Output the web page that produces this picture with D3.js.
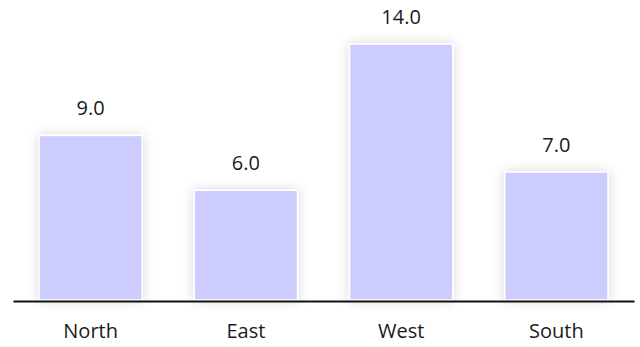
<!DOCTYPE html>
<html>
<head>
<meta charset="utf-8">
<script src="https://cdn.jsdelivr.net/npm/d3@7"></script>
<style>
  body { margin: 0; background: #fff; }
  text { font-family: "Open Sans", sans-serif; fill: #1a1a1a; }
</style>
</head>
<body>
<div id="chart"></div>
<script>
const width = 640;
const height = 347;

// data
const regions = ["North", "East", "West", "South"];
const values = [9, 6, 14, 7];

const svg = d3.select("#chart")
    .append("svg")
    .attr("width", width)
    .attr("height", height);

// soft shadow round the bars
const defs = svg.append("defs");
const shadow = defs.append("filter")
    .attr("id", "shadow")
    .attr("x", "-30%").attr("y", "-30%")
    .attr("width", "160%").attr("height", "160%");
shadow.append("feDropShadow")
    .attr("dx", 0)
    .attr("dy", 0)
    .attr("stdDeviation", 6)
    .attr("flood-color", "#000")
    .attr("flood-opacity", 0.16);

const x = d3.scaleBand()
    .domain(regions)
    .range([13, 634])
    .paddingInner(0.335)
    .paddingOuter(0.1675);

const y = d3.scaleLinear()
    .domain([0, 14])
    .range([300, 44]);

const data = regions.map((r, i) => ({ region: r, value: values[i] }));

svg.append("g")
    .selectAll("rect")
    .data(data)
    .join("rect")
    .attr("x", d => x(d.region))
    .attr("y", d => y(d.value))
    .attr("width", x.bandwidth())
    .attr("height", d => y(0) - y(d.value))
    .attr("fill", "#ccccff")
    .attr("stroke", "#fff")
    .attr("stroke-width", 1.5)
    .attr("filter", "url(#shadow)");

// value labels
svg.append("g")
    .selectAll("text")
    .data(data)
    .join("text")
    .attr("x", d => x(d.region) + x.bandwidth() / 2)
    .attr("y", d => y(d.value) - 20)
    .attr("text-anchor", "middle")
    .attr("font-size", 20)
    .text(d => d.value.toFixed(1));

// axis line + category labels
const xAxis = svg.append("g")
    .attr("transform", "translate(0,301)")
    .call(d3.axisBottom(x).tickSize(0));

xAxis.select(".domain")
    .attr("stroke", "#111")
    .attr("stroke-width", 2);

xAxis.selectAll("text")
    .attr("y", 37)
    .attr("dy", 0)
    .attr("font-size", 20)
    .attr("font-family", "Open Sans, sans-serif")
    .attr("fill", "#1a1a1a");
</script>
</body>
</html>
